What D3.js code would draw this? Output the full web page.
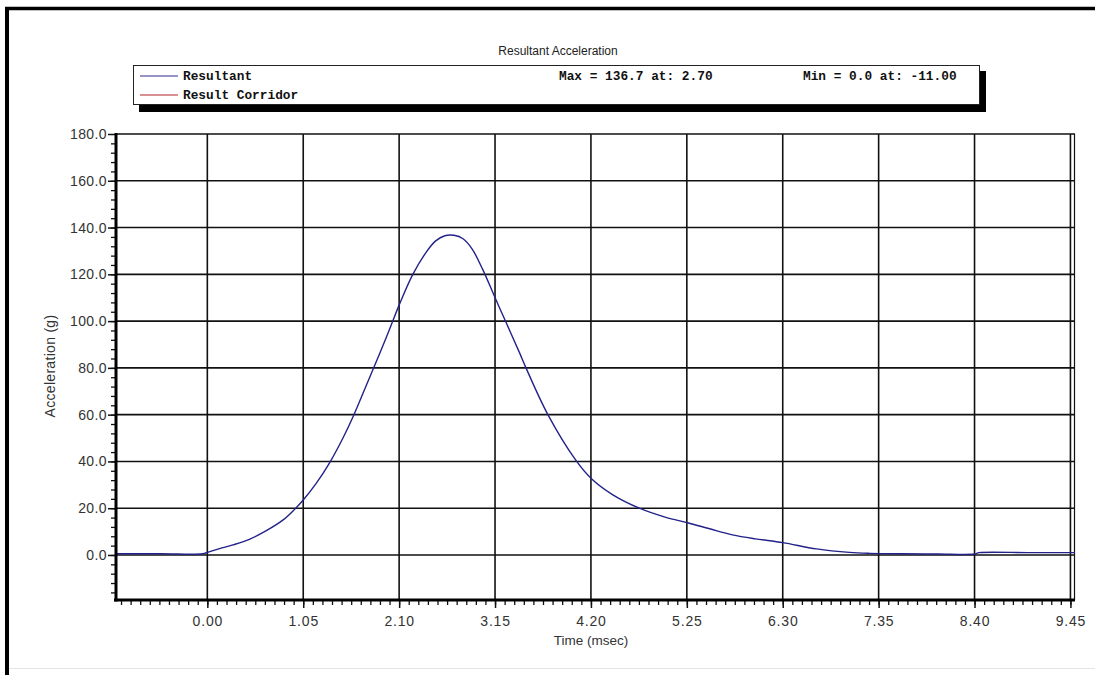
<!DOCTYPE html>
<html>
<head>
<meta charset="utf-8">
<script src="https://cdn.jsdelivr.net/npm/d3@7"></script>
<style>
  body { margin: 0; background: #fff; }
  svg { display: block; }
  .tick text { font-family: "Liberation Sans", Arial, sans-serif; }
</style>
</head>
<body>
<svg width="1095" height="675"></svg>
<script>
// values
var timeMs = [-1.0, -0.5, -0.05, 0.0, 0.135, 0.28, 0.46, 0.646, 0.83, 0.955, 1.05, 1.19, 1.34, 1.485, 1.594,
  1.74, 1.886, 1.995, 2.112, 2.25, 2.397, 2.5, 2.6, 2.7, 2.8, 2.9, 3.016, 3.145, 3.27, 3.42, 3.49, 3.73,
  4.04, 4.2, 4.44, 4.73, 5.02, 5.26, 5.5, 5.75, 6.0, 6.3, 6.67, 7.03, 7.25, 7.6, 8.0, 8.4, 8.45, 9.0, 9.5];
var accel = [0.5, 0.5, 0.5, 1.1, 2.7, 4.3, 6.7, 10.4, 15.0, 19.5, 23.5, 30.5, 39.5, 50.0, 59.0,
  72.5, 86.0, 96.5, 108.0, 120.0, 129.5, 134.3, 136.5, 136.7, 135.2, 130.8, 122.0, 110.5, 99.5, 86.3, 79.9, 59.9,
  40.2, 32.8, 25.7, 20.0, 16.1, 13.8, 11.2, 8.6, 6.9, 5.3, 2.6, 1.1, 0.7, 0.5, 0.4, 0.4, 1.0, 1.0, 1.0];

var xTicks = [0.00, 1.05, 2.10, 3.15, 4.20, 5.25, 6.30, 7.35, 8.40, 9.45];
var xMinor = d3.range(-9, 91).map(function(i) { return i * 0.105; });
var yTicks = [0, 20, 40, 60, 80, 100, 120, 140, 160, 180];
var yMinor = d3.range(-4, 45).map(function(i) { return i * 4; });

var legendNames = ["Resultant", "Result Corridor"];
var legendColors = ["#2b2b8f", "#b0242a"];
var maxText = "Max = 136.7 at: 2.70";
var minText = "Min = 0.0 at: -11.00";

var svg = d3.select("svg"),
    width = +svg.attr("width"),
    height = +svg.attr("height");

var x = d3.scaleLinear().domain([-1, 9.5]).range([116, 1075]);
var y = d3.scaleLinear().domain([-19.25, 180]).range([600, 134]);

// outer frame
svg.append("line").attr("x1", 7).attr("x2", 7).attr("y1", 7).attr("y2", height)
    .attr("stroke", "#000").attr("stroke-width", 4);
svg.append("line").attr("x1", 5).attr("x2", width).attr("y1", 8.5).attr("y2", 8.5)
    .attr("stroke", "#000").attr("stroke-width", 3.5);
svg.append("line").attr("x1", 9).attr("x2", width).attr("y1", 668.5).attr("y2", 668.5)
    .attr("stroke", "#e4e4e4").attr("stroke-width", 1);

svg.append("text")
    .attr("x", 558)
    .attr("y", 55)
    .attr("text-anchor", "middle")
    .attr("font-family", "Liberation Sans, Arial, sans-serif")
    .attr("font-size", 12)
    .attr("fill", "#222")
    .text("Resultant Acceleration");

// legend box with shadow
var lg = svg.append("g").attr("class", "legend");
lg.append("rect").attr("x", 139).attr("y", 71).attr("width", 847).attr("height", 41).attr("fill", "#000");
lg.append("rect").attr("x", 133.5).attr("y", 65.5).attr("width", 846).attr("height", 39)
    .attr("fill", "#fff").attr("stroke", "#222").attr("stroke-width", 1);

lg.selectAll("line.item")
  .data(legendNames)
  .enter().append("line")
    .attr("class", "item")
    .attr("x1", 140).attr("x2", 178)
    .attr("y1", function(d, i) { return 76 + i * 19; })
    .attr("y2", function(d, i) { return 76 + i * 19; })
    .attr("stroke", function(d, i) { return legendColors[i]; })
    .attr("stroke-width", 1.2);

lg.selectAll("text.item")
  .data(legendNames)
  .enter().append("text")
    .attr("class", "item")
    .attr("x", 183)
    .attr("y", function(d, i) { return 80 + i * 19; })
    .attr("font-family", "Liberation Mono, Courier New, monospace")
    .attr("font-weight", "bold")
    .attr("font-size", 12.8)
    .attr("fill", "#111")
    .text(function(d) { return d; });

lg.append("text")
    .attr("x", 559).attr("y", 80)
    .attr("font-family", "Liberation Mono, Courier New, monospace")
    .attr("font-weight", "bold").attr("font-size", 12.8).attr("fill", "#111")
    .text(maxText);
lg.append("text")
    .attr("x", 803).attr("y", 80)
    .attr("font-family", "Liberation Mono, Courier New, monospace")
    .attr("font-weight", "bold").attr("font-size", 12.8).attr("fill", "#111")
    .text(minText);

// grid
var grid = svg.append("g").attr("class", "grid");
grid.selectAll("line.v")
  .data(xTicks)
  .enter().append("line")
    .attr("class", "v")
    .attr("x1", function(d) { return x(d); })
    .attr("x2", function(d) { return x(d); })
    .attr("y1", y.range()[1]).attr("y2", y.range()[0])
    .attr("stroke", "#111").attr("stroke-width", 1.6);
grid.selectAll("line.h")
  .data(yTicks.slice(0, -1))
  .enter().append("line")
    .attr("class", "h")
    .attr("y1", function(d) { return y(d); })
    .attr("y2", function(d) { return y(d); })
    .attr("x1", x.range()[0]).attr("x2", x.range()[1])
    .attr("stroke", "#111").attr("stroke-width", 1.6);

// top and right border
svg.append("line").attr("x1", 116).attr("x2", 1075).attr("y1", 134).attr("y2", 134)
    .attr("stroke", "#111").attr("stroke-width", 1.5);
svg.append("line").attr("x1", 1074.5).attr("x2", 1074.5).attr("y1", 134).attr("y2", 600)
    .attr("stroke", "#111").attr("stroke-width", 1.2);

// curve
svg.append("clipPath").attr("id", "clip")
  .append("rect").attr("x", 116).attr("y", 134).attr("width", 959).attr("height", 466);

var line = d3.line()
    .x(function(d) { return x(d[0]); })
    .y(function(d) { return y(d[1]); })
    .curve(d3.curveCatmullRom.alpha(0.5));

svg.append("path")
    .datum(d3.zip(timeMs, accel))
    .attr("clip-path", "url(#clip)")
    .attr("fill", "none")
    .attr("stroke", "#22228a")
    .attr("stroke-width", 1.4)
    .attr("d", line);

// axes
var fmt2 = d3.format(".2f");
var fmt1 = d3.format(".1f");

svg.append("g")
    .attr("transform", "translate(0,600)")
    .call(d3.axisBottom(x).tickValues(xMinor).tickSize(5).tickFormat(""))
  .call(function(g) { g.select(".domain").remove(); })
  .selectAll("line").attr("stroke", "#111").attr("stroke-width", 1.3);

var xa = svg.append("g")
    .attr("transform", "translate(0,600)")
    .call(d3.axisBottom(x).tickValues(xTicks).tickSize(8).tickPadding(8).tickFormat(fmt2));
xa.select(".domain").remove();
xa.selectAll("line").attr("stroke", "#111").attr("stroke-width", 1.5);
xa.selectAll("text").attr("font-size", 14).attr("letter-spacing", 0.8).attr("fill", "#333");

svg.append("g")
    .attr("transform", "translate(116,0)")
    .call(d3.axisLeft(y).tickValues(yMinor).tickSize(5).tickFormat(""))
  .call(function(g) { g.select(".domain").remove(); })
  .selectAll("line").attr("stroke", "#111").attr("stroke-width", 1.3);

var ya = svg.append("g")
    .attr("transform", "translate(116,0)")
    .call(d3.axisLeft(y).tickValues(yTicks).tickSize(8).tickPadding(1).tickFormat(fmt1));
ya.select(".domain").remove();
ya.selectAll("line").attr("stroke", "#111").attr("stroke-width", 1.5);
ya.selectAll("text").attr("font-size", 14).attr("letter-spacing", 0.4).attr("fill", "#333");

svg.append("line").attr("x1", 114).attr("x2", 1075).attr("y1", 600).attr("y2", 600)
    .attr("stroke", "#000").attr("stroke-width", 3);
svg.append("line").attr("x1", 116).attr("x2", 116).attr("y1", 133).attr("y2", 601.5)
    .attr("stroke", "#000").attr("stroke-width", 3);

svg.append("text")
    .attr("x", 591)
    .attr("y", 645)
    .attr("text-anchor", "middle")
    .attr("font-family", "Liberation Sans, Arial, sans-serif")
    .attr("font-size", 13.5)
    .attr("fill", "#333")
    .text("Time (msec)");

svg.append("text")
    .attr("transform", "translate(55,366) rotate(-90)")
    .attr("text-anchor", "middle")
    .attr("font-family", "Liberation Sans, Arial, sans-serif")
    .attr("font-size", 14)
    .attr("letter-spacing", 0.3)
    .attr("fill", "#333")
    .text("Acceleration (g)");
</script>
</body>
</html>
